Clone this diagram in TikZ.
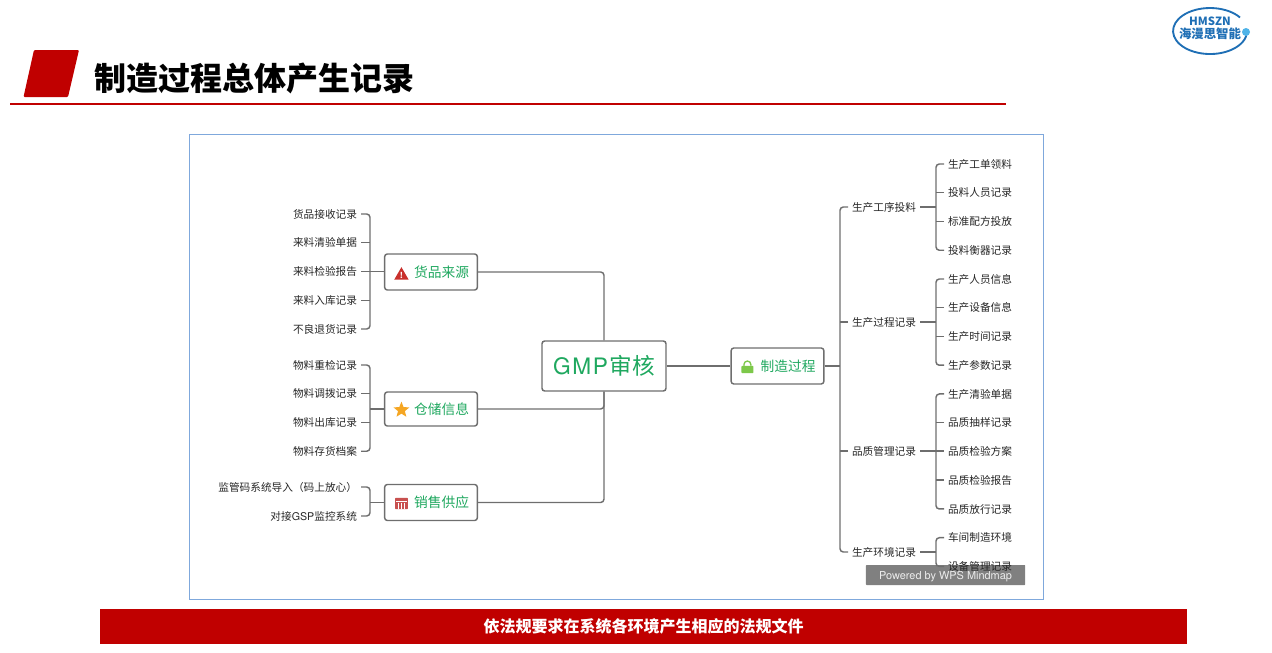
\documentclass[tikz,border=0pt]{standalone}
\usepackage{xcolor}
\usepackage{fontspec}
\setmainfont{Noto Sans CJK SC}
\newfontfamily\latinfont{TeX Gyre Heros}
\usetikzlibrary{positioning,shapes.geometric}
\definecolor{brandred}{HTML}{C00000}
\definecolor{linegray}{HTML}{6E6E6E}
\definecolor{leaftext}{HTML}{262626}
\definecolor{topicgreen}{HTML}{1FA85F}
\definecolor{logoblue}{HTML}{1F6FB5}
\definecolor{logoball}{HTML}{4FB3E8}
\definecolor{frameblue}{HTML}{7FA8DC}
\definecolor{iconred}{HTML}{C9302C}
\definecolor{iconpink}{HTML}{C8504F}
\definecolor{iconstar}{HTML}{F5A623}
\definecolor{iconlock}{HTML}{7DC84A}
\newcommand{\toplabel}[1]{\hspace*{16pt}\raisebox{-1.4pt}{#1}}

\begin{document}
\begin{tikzpicture}[
  x=0.75pt, y=-0.75pt,
  node distance=8.06pt and 6pt,
  every node/.style={inner sep=0pt, align=center},
  leaf/.style={font=\fontsize{8pt}{9pt}\selectfont, text=leaftext, minimum height=13.5pt, outer xsep=3pt, outer ysep=0pt},
  topic/.style={draw=linegray, line width=1.1pt, rounded corners=2pt, fill=white, text=topicgreen, font=\fontsize{10.3pt}{12pt}\selectfont, minimum width=69.5pt},
  root/.style={draw=linegray, line width=1.1pt, rounded corners=2pt, fill=white, text=topicgreen, font=\fontsize{17pt}{20pt}\selectfont, minimum width=93pt, minimum height=37.5pt},
  link/.style={draw=linegray, line width=1.1pt, rounded corners=2.5pt}
]
\useasboundingbox (0,0) rectangle (1272,653);

% header
\fill[brandred, rounded corners=0.8pt] (34,50) -- (79,50) -- (68,97) -- (23.5,97) -- cycle;
\node[anchor=west, font=\fontsize{24pt}{28pt}\selectfont\bfseries] (title) at (94,78) {制造过程总体产生记录};
\draw[brandred, line width=1.5pt] (10,103.5) -- (1006,103.5);

% logo
\draw[logoblue, line width=1.4pt] (1240,17.5) arc[start angle=36, end angle=358, x radius=27.75pt, y radius=17.25pt];
\fill[logoball] (1246,32) circle (4);
\node[text=logoblue, font=\fontsize{8.5pt}{10pt}\selectfont\bfseries] (logoa) at (1210,21) {HMSZN};
\node[text=logoblue, font=\fontsize{9.3pt}{10pt}\selectfont\bfseries, fill=white] (logob) at (1210,34) {海漫思智能};

% frame
\node[draw=frameblue, line width=0.7pt, minimum width=640.5pt, minimum height=348.4pt] (frame) at (616.7,367.2) {};

% watermark
\node[fill=black!50, text=white!85!gray, rounded corners=0.5pt, minimum width=119.5pt, minimum height=15pt, font=\latinfont\fontsize{8.2pt}{10pt}\selectfont] (mark) at (945.5,575) {\raisebox{-3pt}[0pt][0pt]{Powered by WPS Mindmap}};

% left side
\node[topic, minimum height=27pt] (src) at (431,272) {\toplabel{货品来源}};
\node[topic, minimum height=25.5pt] (store) at (431,409) {\toplabel{仓储信息}};
\node[topic, minimum height=27pt] (sales) at (431,502.5) {\toplabel{销售供应}};
\node[root] (gmp) at (604,366) {{\latinfont G\kern1.2pt M\kern1.2pt P\kern1.2pt}审核};
\node[topic, minimum height=27pt] (proc) at (777.5,366) {\toplabel{制造过程}};

\node[leaf, anchor=east] (srca) at (361,214) {货品接收记录};
\node[leaf, below=of srca] (srcb) {来料清验单据};
\node[leaf, below=of srcb] (srcc) {来料检验报告};
\node[leaf, below=of srcc] (srcd) {来料入库记录};
\node[leaf, below=of srcd] (srce) {不良退货记录};
\node[leaf, anchor=east] (stoa) at (361,365) {物料重检记录};
\node[leaf, below=of stoa] (stob) {物料调拨记录};
\node[leaf, below=of stob] (stoc) {物料出库记录};
\node[leaf, below=of stoc] (stod) {物料存货档案};
\node[leaf, anchor=east] (sala) at (361,487) {监管码系统导入（码上放心）};
\node[leaf, anchor=east] (salb) at (361,516) {对接{\latinfont GSP}监控系统};

% right side
\node[leaf, anchor=west] (fed) at (848,207) {生产工序投料};
\node[leaf, anchor=west] (run) at (848,322) {生产过程记录};
\node[leaf, anchor=west] (qual) at (848,451) {品质管理记录};
\node[leaf, anchor=west] (env) at (848,552) {生产环境记录};

\node[leaf, anchor=west] (feda) at (944,164) {生产工单领料};
\node[leaf, below=of feda] (fedb) {投料人员记录};
\node[leaf, below=of fedb] (fedc) {标准配方投放};
\node[leaf, below=of fedc] (fedd) {投料衡器记录};
\node[leaf, below=of fedd] (runa) {生产人员信息};
\node[leaf, below=of runa] (runb) {生产设备信息};
\node[leaf, below=of runb] (runc) {生产时间记录};
\node[leaf, below=of runc] (rund) {生产参数记录};
\node[leaf, below=of rund] (quaa) {生产清验单据};
\node[leaf, below=of quaa] (quab) {品质抽样记录};
\node[leaf, below=of quab] (quac) {品质检验方案};
\node[leaf, below=of quac] (quad) {品质检验报告};
\node[leaf, below=of quad] (quae) {品质放行记录};
\node[leaf, below=of quae] (enva) {车间制造环境};
\node[leaf, below=of enva] (envb) {设备管理记录};

\coordinate (spsrc) at (370,272);
\coordinate (spsto) at (370,409);
\coordinate (spsal) at (370,502.5);
\coordinate (spproc) at (840,366);
\coordinate (spfed) at (936,207);
\coordinate (sprun) at (936,322);
\coordinate (spqua) at (936,451);
\coordinate (spenv) at (936,552);

% centre links
\draw[link] (src.east) -| (gmp.north);
\draw[link] (store.east) -| (gmp.south);
\draw[link] (sales.east) -| (gmp.south);
\draw[link] (gmp.east) -- (proc.west);

% left links
\draw[link] (srca.east) -| (spsrc) |- (srce.east);
\draw[link] (srcb.east) -- (srcb.east -| spsrc);
\draw[link] (srcd.east) -- (srcd.east -| spsrc);
\draw[link] (srcc.east) -- (srcc.east -| src.west);
\draw[link] (stoa.east) -| (spsto) |- (stod.east);
\draw[link] (stob.east) -- (stob.east -| spsto);
\draw[link] (stoc.east) -- (stoc.east -| spsto);
\draw[link] (store.west) -- (spsto);
\draw[link] (sala.east) -| (spsal) |- (salb.east);
\draw[link] (sales.west) -- (spsal);

% right links
\draw[link] (proc.east) -- (spproc);
\draw[link] (fed.west) -| (spproc) |- (env.west);
\draw[link] (run.west) -- (run.west -| spproc);
\draw[link] (qual.west) -- (qual.west -| spproc);

\draw[link] (feda.west) -| (spfed) |- (fedd.west);
\draw[link] (fedb.west) -- (fedb.west -| spfed);
\draw[link] (fedc.west) -- (fedc.west -| spfed);
\draw[link] (fed.east) -- (spfed);
\draw[link] (runa.west) -| (sprun) |- (rund.west);
\draw[link] (runb.west) -- (runb.west -| sprun);
\draw[link] (runc.west) -- (runc.west -| sprun);
\draw[link] (run.east) -- (sprun);
\draw[link] (quaa.west) -| (spqua) |- (quae.west);
\draw[link] (quab.west) -- (quab.west -| spqua);
\draw[link] (quad.west) -- (quad.west -| spqua);
\draw[link] (qual.east) -- (qual.east -| quac.west);
\draw[link] (enva.west) -| (spenv) |- (envb.west);
\draw[link] (env.east) -- (spenv);

% icons
\node[regular polygon, regular polygon sides=3, fill=iconred, minimum size=12.5pt] (iconsrc) at ([shift={(17.5,3.5)}]src.west) {};
\node[text=white, font=\fontsize{6pt}{6pt}\selectfont\bfseries] (marksrc) at (iconsrc) {!};
\node[star, star points=5, star point ratio=2.3, fill=iconstar, minimum size=12.5pt] (iconsto) at ([shift={(17.5,1)}]store.west) {};
\node[fill=iconpink, rounded corners=0.5pt, minimum width=9.5pt, minimum height=8.6pt] (iconsal) at ([shift={(17.5,1)}]sales.west) {};
\foreach \gx in {-3,0,3} \draw[white, line width=0.5pt] ([shift={(\gx,-1)}]iconsal.center) -- ([shift={(\gx,5)}]iconsal.center);
\draw[white, line width=0.5pt] ([shift={(-5.5,-2)}]iconsal.center) -- ([shift={(5.5,-2)}]iconsal.center);
\node[fill=iconlock, rounded corners=0.5pt, minimum width=9pt, minimum height=5.4pt] (iconproc) at ([shift={(17,3.5)}]proc.west) {};
\draw[iconlock, line width=1pt] ([shift={(-3.5,-3)}]iconproc.center) -- ++(0,-2) arc[start angle=180, end angle=0, radius=2.6pt] -- ++(0,1);

% footer
\node[fill=brandred, text=white, font=\fontsize{12pt}{14pt}\selectfont\bfseries, minimum width=815pt, minimum height=26pt] (footer) at (643.5,626.5) {依法规要求在系统各环境产生相应的法规文件};
\end{tikzpicture}
\end{document}
